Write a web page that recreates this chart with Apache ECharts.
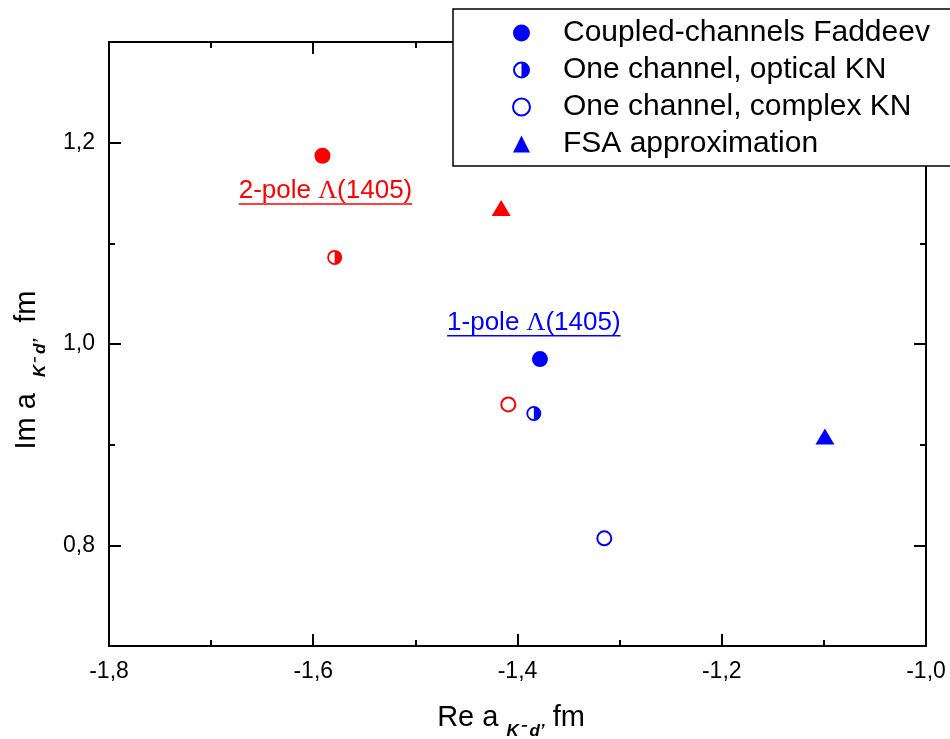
<!DOCTYPE html>
<html>
<head>
<meta charset="utf-8">
<script src="https://cdn.jsdelivr.net/npm/echarts@6/dist/echarts.min.js"></script>
<style>
  html, body { margin: 0; padding: 0; background: #ffffff; }
  #chart { width: 950px; height: 739px; }
</style>
</head>
<body>
<div id="chart"></div>
<script>
// Scattering length of K^- d: real vs imaginary part for two Λ(1405) models
const methods = [
  'Coupled-channels Faddeev',
  'One channel, optical KN',
  'One channel, complex KN',
  'FSA approximation'
];
// 2-pole Λ(1405) model (red)
const reTwoPole = [-1.591, -1.579, -1.409, -1.416];
const imTwoPole = [1.187, 1.086, 0.940, 1.135];
// 1-pole Λ(1405) model (blue)
const reOnePole = [-1.378, -1.384, -1.315, -1.099];
const imOnePole = [0.985, 0.931, 0.807, 0.908];

const xRange = [-1.8, -1.0];
const yRange = [0.7, 1.3];
const yMajorTicks = [0.8, 1.0, 1.2];
const yMinorTicks = [0.9, 1.1];

const RED = '#ff0000';
const BLUE = '#0000ff';
const SANS = '"Liberation Sans", Arial, Helvetica, sans-serif';
const SERIF = '"Liberation Serif", "Times New Roman", serif';

// circle outline with right half filled
const HALF_CIRCLE = 'path://M10,0 A10,10 0 1,1 10,20 A10,10 0 1,1 10,0 Z ' +
  'M10,2.4 A7.6,7.6 0 1,0 10,17.6 A7.6,7.6 0 1,0 10,2.4 Z ' +
  'M10,2.4 A7.6,7.6 0 0,1 10,17.6 Z';
const symbols = ['circle', HALF_CIRCLE, 'emptyCircle', 'triangle'];
const symbolSizes = [16, 15, 14, [19, 16]];

const fmt = v => v.toFixed(1).replace('.', ',');

function makeSeries(name, x, y, color, i) {
  return {
    type: 'scatter',
    name: name,
    xAxisIndex: 0,
    yAxisIndex: 0,
    symbol: symbols[i],
    symbolSize: symbolSizes[i],
    itemStyle: i === 2
      ? { color: color, borderColor: color, borderWidth: 2.2, opacity: 1 }
      : { color: color, borderWidth: 0, opacity: 1 },
    emphasis: { disabled: true },
    data: [[x, y]],
    z: 5
  };
}

const series = [];
methods.forEach((m, i) => series.push(makeSeries(m, reOnePole[i], imOnePole[i], BLUE, i)));
methods.forEach((m, i) => series.push(makeSeries('2-pole ' + m, reTwoPole[i], imTwoPole[i], RED, i)));

const axisLineStyle = { color: '#000', width: 2 };

function xAxisCfg(position, showLabel) {
  return {
    type: 'value', position: position,
    min: xRange[0], max: xRange[1], interval: 0.2,
    axisLine: { show: true, onZero: false, lineStyle: axisLineStyle },
    axisTick: { show: true, inside: true, length: 12, lineStyle: { color: '#000', width: 2 } },
    minorTick: { show: true, splitNumber: 2, length: 6, lineStyle: { color: '#000', width: 2 } },
    axisLabel: { show: showLabel, formatter: fmt, color: '#000', fontFamily: SANS, fontSize: 23, margin: 14 },
    splitLine: { show: false }, minorSplitLine: { show: false }
  };
}

function yAxisCfg(position, major, showLabel) {
  const ticks = major ? yMajorTicks : yMinorTicks;
  return {
    type: 'value', position: position,
    min: yRange[0], max: yRange[1],
    axisLine: { show: major, onZero: false, lineStyle: axisLineStyle },
    axisTick: { show: true, inside: true, length: major ? 12 : 6, customValues: ticks,
      lineStyle: { color: '#000', width: 2 } },
    axisLabel: { show: showLabel, customValues: ticks, formatter: fmt, color: '#000',
      fontFamily: SANS, fontSize: 23, margin: 14 },
    splitLine: { show: false }
  };
}

const chart = echarts.init(document.getElementById('chart'), null, { renderer: 'canvas' });

chart.setOption({
  animation: false,
  backgroundColor: '#ffffff',
  grid: { left: 109, right: 24, top: 42, bottom: 93, containLabel: false },
  xAxis: [xAxisCfg('bottom', true), xAxisCfg('top', false)],
  yAxis: [
    yAxisCfg('left', true, true),
    yAxisCfg('right', true, false),
    yAxisCfg('left', false, false),
    yAxisCfg('right', false, false)
  ],
  legend: {
    data: methods,
    orient: 'vertical',
    left: 453, top: 9,
    padding: [9, 60, 7, 59],
    itemGap: 7,
    itemWidth: 17, itemHeight: 17,
    selectedMode: false,
    backgroundColor: '#ffffff',
    borderColor: '#000',
    borderWidth: 1.5,
    borderRadius: 0,
    textStyle: { color: '#000', fontFamily: SANS, fontSize: 30, lineHeight: 30, padding: [0, 0, 0, 28] }
  },
  series: series
});

// text width helper for underlines
const measureCtx = document.createElement('canvas').getContext('2d');
function textWidth(str, font) { measureCtx.font = font; return measureCtx.measureText(str).width; }

// model annotations, placed in data coordinates
const labelSpecs = [
  { prefix: '2-pole ', re: -1.588, im: 1.152, color: RED },
  { prefix: '1-pole ', re: -1.384, im: 1.021, color: BLUE }
];
const graphics = [];
labelSpecs.forEach(s => {
  const p = chart.convertToPixel({ xAxisIndex: 0, yAxisIndex: 0 }, [s.re, s.im]);
  const w = textWidth(s.prefix, '26px ' + SANS) + textWidth('Λ', '26px ' + SERIF) + textWidth('(1405)', '26px ' + SANS);
  graphics.push({
    type: 'text', x: p[0], y: p[1], z: 10,
    style: {
      text: '{t|' + s.prefix + '}{g|Λ}{t|(1405)}',
      align: 'center', verticalAlign: 'middle',
      textAlign: 'center', textVerticalAlign: 'middle',
      rich: {
        t: { fontFamily: SANS, fontSize: 26, fill: s.color, color: s.color },
        g: { fontFamily: SERIF, fontSize: 26, fill: s.color, color: s.color }
      }
    }
  });
  graphics.push({
    type: 'line', z: 10,
    shape: { x1: p[0] - w / 2, y1: p[1] + 13, x2: p[0] + w / 2, y2: p[1] + 13 },
    style: { stroke: s.color, lineWidth: 1.5 }
  });
});

// axis titles with subscripts
const titleRich = {
  m: { fontFamily: SANS, fontSize: 29, lineHeight: 44, verticalAlign: 'middle', fill: '#000', color: '#000' },
  s: { fontFamily: SANS, fontSize: 17, fontWeight: 'bold', fontStyle: 'italic', lineHeight: 18,
       verticalAlign: 'bottom', fill: '#000', color: '#000' }
};
graphics.push({
  type: 'text', x: 511, y: 718, z: 10,
  style: {
    text: '{m|Re a }{s|K⁻ d’}{m| fm}',
    align: 'center', verticalAlign: 'middle', textAlign: 'center', textVerticalAlign: 'middle',
    rich: titleRich
  }
});
graphics.push({
  type: 'text', x: 27, y: 370, rotation: Math.PI / 2, z: 10,
  style: {
    text: '{m|Im a  }{s|K⁻ d’}{m|  fm}',
    align: 'center', verticalAlign: 'middle', textAlign: 'center', textVerticalAlign: 'middle',
    rich: titleRich
  }
});

chart.setOption({ graphic: graphics });
</script>
</body>
</html>
